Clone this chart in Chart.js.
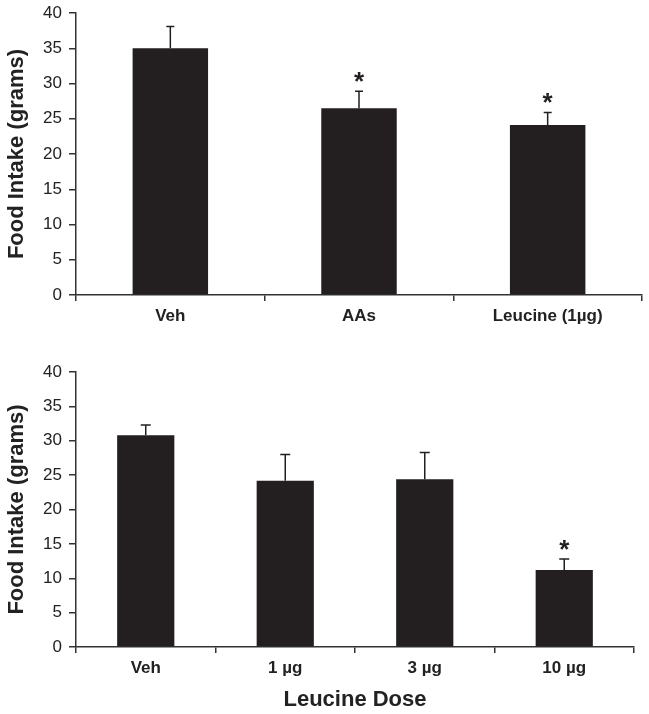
<!DOCTYPE html>
<html>
<head>
<meta charset="utf-8">
<script src="https://cdn.jsdelivr.net/npm/chart.js@4/dist/chart.umd.min.js"></script>
<style>
  html, body { margin: 0; padding: 0; background: #fff; }
  .box { position: absolute; left: 0; width: 649px; }
  #topBox { top: 0; height: 340px; }
  #bottomBox { top: 350px; height: 364px; }
</style>
</head>
<body>
<div class="box" id="topBox"><canvas id="topChart" width="649" height="340"></canvas></div>
<div class="box" id="bottomBox"><canvas id="bottomChart" width="649" height="364"></canvas></div>
<script>
/* Food intake after leucine / amino acid injections */
const BAR_COLOR = '#231f20';
const TEXT_COLOR = '#222';
const FONT = '"Liberation Sans", Arial, sans-serif';

const topCategories = ['Veh', 'AAs', 'Leucine (1µg)'];
const topMeans      = [35.0, 26.5, 24.1];
const topSem        = [3.1, 2.4, 1.8];
const topStars      = [false, true, true];

const bottomCategories = ['Veh', '1 µg', '3 µg', '10 µg'];
const bottomMeans      = [30.8, 24.2, 24.4, 11.2];
const bottomSem        = [1.5, 3.8, 3.9, 1.6];
const bottomStars      = [false, false, false, true];

const yTicks = [0, 5, 10, 15, 20, 25, 30, 35, 40];

// error bars (upper only) + significance stars
const errorBarPlugin = {
  id: 'errorBars',
  afterDatasetsDraw(chart, args, opts) {
    const ctx = chart.ctx;
    const meta = chart.getDatasetMeta(0);
    const y = chart.scales.y;
    ctx.save();
    ctx.strokeStyle = BAR_COLOR;
    ctx.lineWidth = 1.5;
    meta.data.forEach((bar, i) => {
      const top = y.getPixelForValue(opts.means[i] + opts.sem[i]);
      const base = y.getPixelForValue(opts.means[i]);
      ctx.beginPath();
      ctx.moveTo(bar.x, base);
      ctx.lineTo(bar.x, top);
      ctx.moveTo(bar.x - opts.cap, top);
      ctx.lineTo(bar.x + opts.cap, top);
      ctx.stroke();
      if (opts.stars[i]) {
        ctx.fillStyle = BAR_COLOR;
        ctx.font = 'bold 26px ' + FONT;
        ctx.textAlign = 'center';
        ctx.textBaseline = 'alphabetic';
        ctx.fillText('*', bar.x, top - 1);
      }
    });
    ctx.restore();
  }
};

function makeChart(id, labels, means, sem, stars, opts) {
  return new Chart(document.getElementById(id), {
    type: 'bar',
    data: {
      labels: labels,
      datasets: [{
        data: means,
        backgroundColor: BAR_COLOR,
        borderWidth: 0,
        categoryPercentage: 1,
        barPercentage: opts.barPct,
      }],
    },
    plugins: [errorBarPlugin],
    options: {
      responsive: false,
      animation: false,
      events: [],
      layout: { padding: opts.padding },
      plugins: {
        legend: { display: false },
        tooltip: { enabled: false },
        errorBars: { means: means, sem: sem, stars: stars, cap: opts.cap },
      },
      scales: {
        x: {
          afterFit(scale) { scale.height = opts.xHeight; },
          grid: { offset: true, drawOnChartArea: false, tickLength: 6, color: '#333', lineWidth: 1.5 },
          border: { color: '#333', width: 1.5 },
          ticks: {
            color: TEXT_COLOR,
            padding: 5,
            maxRotation: 0,
            font: { family: FONT, size: 17, weight: 'bold' },
          },
          title: {
            display: !!opts.xTitle,
            text: opts.xTitle || '',
            color: TEXT_COLOR,
            padding: { top: 0, bottom: 1 },
            font: { family: FONT, size: 22, weight: 'bold' },
          },
        },
        y: {
          min: 0,
          max: 40,
          afterFit(scale) {
            scale.width = 76;
            scale.paddingTop = 0;
            scale.paddingBottom = 0;
          },
          afterBuildTicks(scale) { scale.ticks = yTicks.map(v => ({ value: v })); },
          grid: { drawOnChartArea: false, tickLength: 7, color: '#333', lineWidth: 1.5 },
          border: { color: '#333', width: 1.5 },
          ticks: {
            color: TEXT_COLOR,
            padding: 7,
            font: { family: FONT, size: 17 },
          },
          title: {
            display: true,
            text: 'Food Intake (grams)',
            color: TEXT_COLOR,
            padding: { top: 4, bottom: 0 },
            font: { family: FONT, size: 22, weight: 'bold' },
          },
        },
      },
    },
  });
}

makeChart('topChart', topCategories, topMeans, topSem, topStars, {
  barPct: 0.40, cap: 4, xHeight: 45,
  padding: { top: 13, right: 7, left: 0, bottom: 0 },
});

makeChart('bottomChart', bottomCategories, bottomMeans, bottomSem, bottomStars, {
  barPct: 0.41, cap: 5, xHeight: 67, xTitle: 'Leucine Dose',
  padding: { top: 22, right: 15, left: 0, bottom: 0 },
});
</script>
</body>
</html>
